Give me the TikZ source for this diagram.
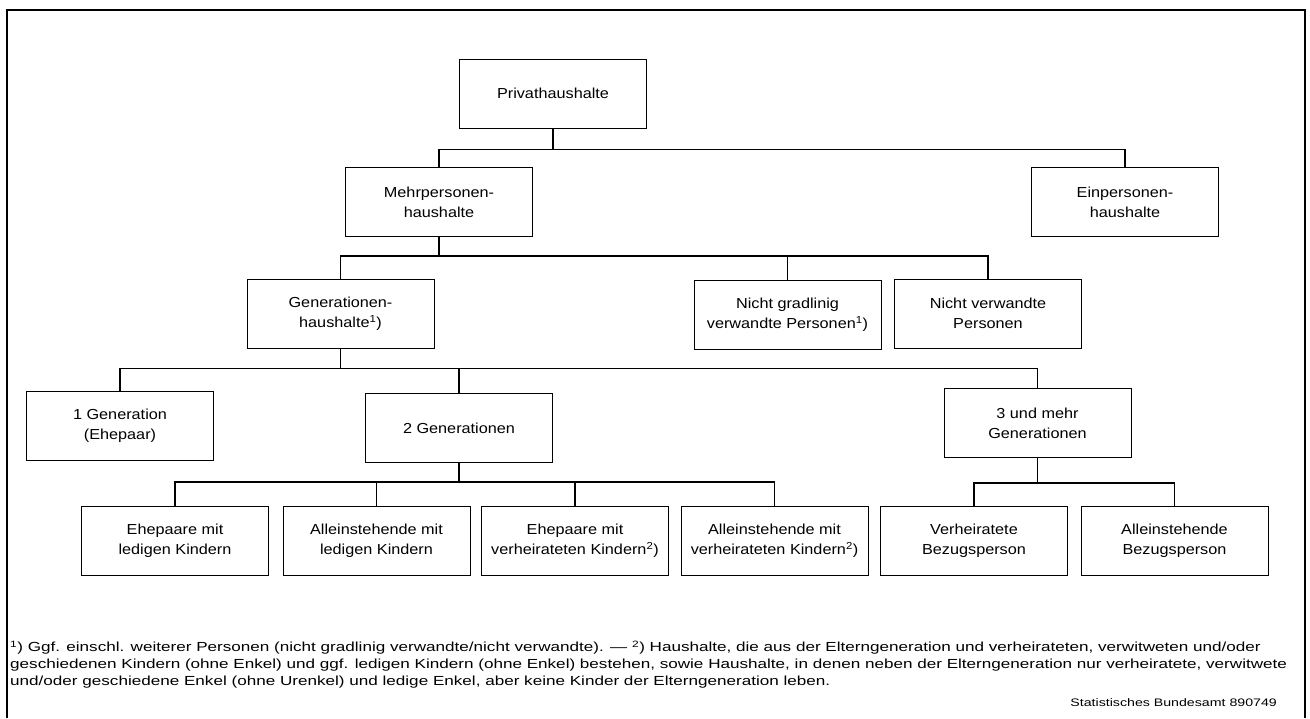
\documentclass[tikz,border=0pt]{standalone}
\usepackage{fontspec}
\setmainfont{Liberation Sans}[FakeStretch=1.12]
\newfontfamily\fnfont{Liberation Sans}[FakeStretch=1.3]
\begin{document}
\begin{tikzpicture}[x=1pt,y=-1pt]
        \tikzset{kasten/.style = {draw, line width=1pt, minimum width=187pt, minimum height=69pt,
                                  inner sep=2pt, align=center, font=\fontsize{14.5}{20}\selectfont},
                 ast/.style = {line width=1.2pt}}
        \useasboundingbox (0,0) rectangle (1310,718);
        \draw[line width=1.2pt] (7,718) -- (7,10) -- (1305,10) -- (1305,718);

        \node[kasten] (priv) at (553,93.5) {Privathaushalte};
        \node[kasten] (mehr) at (439,202) {Mehrpersonen-\\haushalte};
        \node[kasten] (ein) at (1125,202) {Einpersonen-\\haushalte};
        \node[kasten] (gen) at (340.5,313.5) {Generationen-\\haushalte\textsuperscript{1})};
        \node[kasten] (ngv) at (787.5,315) {Nicht gradlinig\\verwandte Personen\textsuperscript{1})};
        \node[kasten] (nv) at (988,313.5) {Nicht verwandte\\Personen};
        \node[kasten] (g1) at (120,426) {1 Generation\\(Ehepaar)};
        \node[kasten] (g2) at (459,428) {2 Generationen};
        \node[kasten] (g3) at (1037.5,423) {3 und mehr\\Generationen};
        \node[kasten] (el) at (175,540.5) {Ehepaare mit\\ledigen Kindern};
        \node[kasten] (al) at (376.5,540.5) {Alleinstehende mit\\ledigen Kindern};
        \node[kasten] (ev) at (575,540.5) {Ehepaare mit\\verheirateten Kindern\textsuperscript{2})};
        \node[kasten] (av) at (774.5,540.5) {Alleinstehende mit\\verheirateten Kindern\textsuperscript{2})};
        \node[kasten] (vb) at (974,540.5) {Verheiratete\\Bezugsperson};
        \node[kasten] (ab) at (1174.5,540.5) {Alleinstehende\\Bezugsperson};

        \draw[ast] (priv.south) -- ++(0,21) -| (mehr.north);
        \draw[ast] (priv.south) ++(0,21) -| (ein.north);
        \draw[ast] (mehr.south) -- ++(0,19) -| (gen.north);
        \draw[ast] (mehr.south) ++(0,19) -| (ngv.north);
        \draw[ast] (mehr.south) ++(0,19) -| (nv.north);
        \draw[ast] (gen.south) -- ++(0,20) -| (g1.north);
        \draw[ast] (gen.south) ++(0,20) -| (g2.north);
        \draw[ast] (gen.south) ++(0,20) -| (g3.north);
        \draw[ast] (g2.south) -- ++(0,19) -| (el.north);
        \draw[ast] (g2.south) ++(0,19) -| (al.north);
        \draw[ast] (g2.south) ++(0,19) -| (ev.north);
        \draw[ast] (g2.south) ++(0,19) -| (av.north);
        \draw[ast] (g3.south) -- ++(0,25) -| (vb.north);
        \draw[ast] (g3.south) ++(0,25) -| (ab.north);

        % Fussnoten
        \node[anchor=north west, align=left, inner sep=0pt, font=\fnfont\fontsize{13.15}{16.8}\selectfont] (fn) at (10,641)
          {\textsuperscript{1}) Ggf. einschl. weiterer Personen (nicht gradlinig verwandte/nicht verwandte). \textemdash{} \textsuperscript{2}) Haushalte, die aus der Elterngeneration und verheirateten, verwitweten und/oder\\
           geschiedenen Kindern (ohne Enkel) und ggf. ledigen Kindern (ohne Enkel) bestehen, sowie Haushalte, in denen neben der Elterngeneration nur verheiratete, verwitwete\\
           und/oder geschiedene Enkel (ohne Urenkel) und ledige Enkel, aber keine Kinder der Elterngeneration leben.};
        \node[anchor=base east, inner sep=0pt, font=\fnfont\fontsize{10.9}{13}\selectfont] (quelle) at (1277,706) {Statistisches Bundesamt 890749};
\end{tikzpicture}
\end{document}
